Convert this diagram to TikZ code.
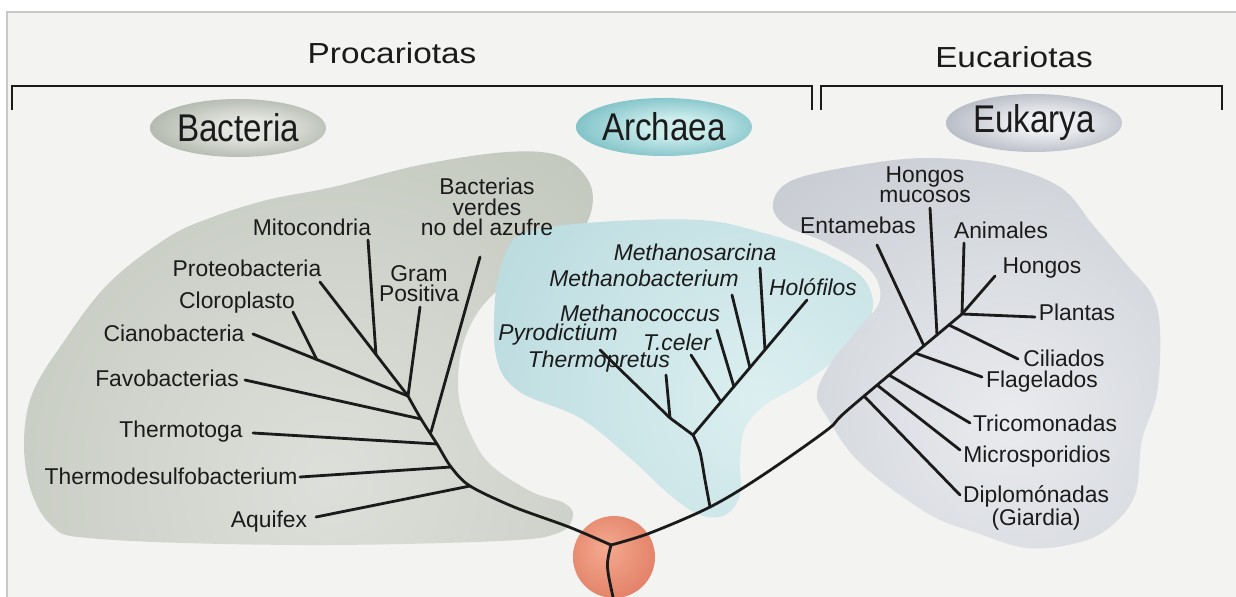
\documentclass[tikz,border=0pt]{standalone}
\usepackage{fontspec}
\setmainfont{Liberation Sans}
\newfontfamily\domainfont[FakeStretch=0.86]{Liberation Sans}
\newfontfamily\headfont[FakeStretch=1.15]{Liberation Sans}
\usetikzlibrary{shapes.geometric}

\definecolor{paper}{HTML}{F3F3F1}
\definecolor{framegray}{HTML}{C8C8C8}
\definecolor{ink}{HTML}{1B1B1B}
\definecolor{bactlight}{HTML}{DDE0DA}
\definecolor{bactdark}{HTML}{929B8A}
\definecolor{archlight}{HTML}{DCEFF0}
\definecolor{archdark}{HTML}{72B0BB}
\definecolor{euklight}{HTML}{E9EBEE}
\definecolor{eukdark}{HTML}{868E9C}
\definecolor{bactovalin}{HTML}{E4E6E1}
\definecolor{bactovalout}{HTML}{7A8573}
\definecolor{archovalin}{HTML}{CDEDED}
\definecolor{archovalout}{HTML}{26909D}
\definecolor{eukovalin}{HTML}{EEEFF2}
\definecolor{eukovalout}{HTML}{788091}
\definecolor{rootlight}{HTML}{F4AA90}
\definecolor{rootdark}{HTML}{D6654C}

\pgfdeclareradialshading{bactglow}{\pgfpoint{0bp}{0bp}}{color(0bp)=(bactlight); color(50bp)=(bactdark)}
\pgfdeclareradialshading{archglow}{\pgfpoint{0bp}{0bp}}{color(0bp)=(archlight); color(50bp)=(archdark)}
\pgfdeclareradialshading{eukglow}{\pgfpoint{0bp}{0bp}}{color(0bp)=(euklight); color(50bp)=(eukdark)}
\pgfdeclareradialshading{bactoval}{\pgfpoint{4bp}{0bp}}{color(0bp)=(bactovalin); color(8bp)=(bactovalin); color(50bp)=(bactovalout)}
\pgfdeclareradialshading{archoval}{\pgfpoint{4bp}{0bp}}{color(0bp)=(archovalin); color(8bp)=(archovalin); color(50bp)=(archovalout)}
\pgfdeclareradialshading{eukoval}{\pgfpoint{4bp}{0bp}}{color(0bp)=(eukovalin); color(8bp)=(eukovalin); color(50bp)=(eukovalout)}
\pgfdeclareradialshading{rootball}{\pgfpoint{-6bp}{6bp}}{color(0bp)=(rootlight); color(50bp)=(rootdark)}

\tikzset{
  branch/.style={draw=ink, line width=1.6pt, line cap=round, line join=round},
  bracket/.style={draw=ink, line width=1.2pt},
  heading/.style={font=\headfont\fontsize{16.5}{18}\selectfont, text=ink, inner sep=0pt},
  domainoval/.style={
    ellipse,
    shade,
    minimum width=3.52cm,
    minimum height=1.16cm,
    inner sep=0pt,
    text=ink,
    font=\domainfont\fontsize{22}{24}\selectfont
  },
  taxon/.style={font=\fontsize{13}{11.5}\selectfont, text=ink, align=center, inner sep=0pt},
  archtaxon/.style={taxon, font=\fontsize{13}{11.5}\selectfont\itshape}
}

\begin{document}
\begin{tikzpicture}[x=0.02cm, y=-0.02cm]
  \useasboundingbox (0,0) rectangle (1236,597);
  \fill[white] (0,0) rectangle (1236,597);
  \fill[paper] (7,12) rectangle (1236,597);
  \draw[framegray, line width=0.6pt] (7,597) -- (7,12) -- (1236,12);

  % Headings and brackets
  \node[heading] (procariotas) at (392,53) {Procariotas};
  \node[heading] (eucariotas) at (1014,57) {Eucariotas};
  \draw[bracket] (12,110) -- (12,86) -- (812,86) -- (812,110);
  \draw[bracket] (821,110) -- (821,86) -- (1222,86) -- (1222,110);

  % Domain ovals
  \node[domainoval, shading=bactoval] (bacteria) at (238,128) {Bacteria};
  \node[domainoval, shading=archoval] (archaea) at (664,127) {Archaea};
  \node[domainoval, shading=eukoval] (eukarya) at (1034,123) {Eukarya};

  % Shaded regions behind each tree
  \begin{scope}
    \clip plot[smooth cycle, tension=0.6] coordinates {
      (26,470) (30,400) (67,337) (110,282) (167,238) (210,218)
      (267,200) (333,187) (420,165) (507,152) (560,156) (588,180) (592,208)
      (578,236) (548,258) (508,282) (478,312) (461,352) (459,398) (472,437)
      (492,466) (532,492) (564,503) (573,516) (558,533) (500,541) (300,545)
      (100,539) (50,524)};
    \shade[shading=bactglow] (330,480) circle (600);
  \end{scope}
  \begin{scope}
    \clip plot[smooth cycle, tension=0.6] coordinates {
      (527,232) (600,222) (700,220) (760,232) (815,250) (860,275) (873,305)
      (860,335) (835,360) (800,385) (765,405) (745,428) (740,460) (740,495)
      (725,515) (700,515) (670,495) (630,458) (580,418) (520,392) (497,360)
      (495,300) (505,255)};
    \shade[shading=archglow] (760,400) circle (480);
  \end{scope}
  \begin{scope}
    \clip plot[smooth cycle, tension=0.6] coordinates {
      (773,203) (793,180) (860,165) (927,158) (1000,165) (1060,187) (1093,225)
      (1127,265) (1152,295) (1160,330) (1157,393) (1142,440) (1135,495)
      (1110,527) (1077,543) (1027,548) (977,533) (927,513) (860,463) (827,417)
      (817,393) (833,360) (860,327) (880,300) (870,270) (827,243) (785,225)};
    \shade[shading=eukglow] (1010,420) circle (500);
  \end{scope}

  % Root of the tree
  \coordinate (rootc) at (614,557);
  \shade[shading=rootball] (rootc) circle (41);
  \coordinate (root) at (611,545);
  \coordinate (rootEnd) at (613,597);
  \draw[branch] (root) .. controls (606,565) .. (rootEnd);

  % Bacteria trunk points
  \coordinate (bGram) at (408,396);
  \coordinate (bFavo) at (421,419);
  \coordinate (bVerdes) at (431,432);
  \coordinate (bThermo) at (437,444);
  \coordinate (bDesulfo) at (451,467);
  \coordinate (bAquifex) at (470,486);
  \coordinate (bLowA) at (514,507);
  \coordinate (bLowB) at (569,527);
  \coordinate (bCloro) at (317,360);
  \coordinate (bMito) at (376,355);
  \draw[branch] plot[smooth, tension=0.5] coordinates {(bGram) (bFavo) (bThermo) (bDesulfo) (bAquifex) (bLowA) (bLowB) (root)};

  % Bacteria labels and branches
  \node[taxon] (verdes) at (487,207) {Bacterias\\verdes\\no del azufre};
  \node[taxon] (mitocondria) at (312,227) {Mitocondria};
  \node[taxon] (gram) at (419,284) {Gram\\Positiva};
  \node[taxon] (proteo) at (247,268) {Proteobacteria};
  \node[taxon] (cloro) at (237,303) {Cloroplasto};
  \node[taxon] (ciano) at (174,333) {Cianobacteria};
  \node[taxon] (favo) at (167,378) {Favobacterias};
  \node[taxon] (thermotoga) at (181,432) {Thermotoga};
  \node[taxon] (desulfo) at (171,476) {Thermodesulfobacterium};
  \node[taxon] (aquifex) at (269,522) {Aquifex};

  \coordinate (tVerdes) at (480,257);
  \coordinate (tMito) at (368,240);
  \coordinate (tGram) at (420,307);
  \coordinate (tProteo) at (320,282);
  \coordinate (tCloro) at (293,312);
  \coordinate (tCiano) at (253,334);
  \coordinate (tFavo) at (245,380);
  \coordinate (tThermo) at (253,433);
  \coordinate (tDesulfo) at (300,477);
  \coordinate (tAquifex) at (316,517);

  \draw[branch] (tVerdes) -- (bVerdes);
  \draw[branch] (tMito) -- (bMito);
  \draw[branch] (tGram) -- (bGram);
  \draw[branch] (tProteo) -- (bGram);
  \draw[branch] (tCloro) -- (bCloro);
  \draw[branch] (tCiano) -- (bGram);
  \draw[branch] (tFavo) -- (bFavo);
  \draw[branch] (tThermo) -- (bThermo);
  \draw[branch] (tDesulfo) -- (bDesulfo);
  \draw[branch] (tAquifex) -- (bAquifex);

  % Main trunk towards Archaea and Eukarya
  \coordinate (aStem) at (710,507);
  \coordinate (eStem) at (850,408);
  \coordinate (eDiplo) at (864,396);
  \coordinate (eMicro) at (877,385);
  \coordinate (eTrico) at (889,375);
  \coordinate (eFlag) at (915,353);
  \coordinate (eEnta) at (924,346);
  \coordinate (eMuco) at (937,335);
  \coordinate (eCili) at (949,325);
  \coordinate (eTop) at (962,314);
  \draw[branch] plot[smooth, tension=0.55] coordinates {(root) (650,533) (aStem) (760,477) (827,430) (eStem) (eTop)};

  % Archaea labels and branches
  \coordinate (aFork) at (693,435);
  \coordinate (aThermo) at (670,418);
  \coordinate (aSarc) at (765,350);
  \coordinate (aBact) at (750,368);
  \coordinate (aCocc) at (734,387);
  \coordinate (aCeler) at (721,402);
  \draw[branch] plot[smooth, tension=0.5] coordinates {(aStem) (705,480) (700,452) (aFork)};

  \node[archtaxon] (sarcina) at (695,252) {Methanosarcina};
  \node[archtaxon] (mbact) at (644,278) {Methanobacterium};
  \node[archtaxon] (holofilos) at (813,287) {Holófilos};
  \node[archtaxon] (coccus) at (640,313) {Methanococcus};
  \node[archtaxon] (pyro) at (558,335) {Pyrodictium};
  \node[archtaxon] (celer) at (677,342) {T.celer};
  \node[archtaxon] (thermop) at (599,362) {Thermopretus};

  \coordinate (tHolo) at (807,300);
  \coordinate (tSarc) at (760,268);
  \coordinate (tMbact) at (732,295);
  \coordinate (tCocc) at (717,330);
  \coordinate (tCeler) at (691,355);
  \coordinate (tThermop) at (666,375);
  \coordinate (tPyro) at (600,350);

  \draw[branch] (tHolo) -- (aFork);
  \draw[branch] (tSarc) -- (aSarc);
  \draw[branch] (tMbact) -- (aBact);
  \draw[branch] (tCocc) -- (aCocc);
  \draw[branch] (tCeler) -- (aCeler);
  \draw[branch] (tThermop) -- (aThermo);
  \draw[branch] (tPyro) -- (aThermo) -- (aFork);

  % Eukarya labels and branches
  \node[taxon] (mucosos) at (925,185) {Hongos\\mucosos};
  \node[taxon] (entamebas) at (858,225) {Entamebas};
  \node[taxon] (animales) at (1001,230) {Animales};
  \node[taxon] (hongos) at (1042,268) {Hongos};
  \node[taxon] (plantas) at (1077,312) {Plantas};
  \node[taxon] (ciliados) at (1064,358) {Ciliados};
  \node[taxon] (flagelados) at (1042,382) {Flagelados};
  \node[taxon] (tricomonadas) at (1045,423) {Tricomonadas};
  \node[taxon] (microsp) at (1037,457) {Microsporidios};
  \node[taxon] (diplo) at (1036,508) {Diplomónadas\\(Giardia)};

  \coordinate (tEnta) at (877,245);
  \coordinate (tMuco) at (930,208);
  \coordinate (tAnim) at (964,243);
  \coordinate (tHongos) at (995,276);
  \coordinate (tPlantas) at (1035,317);
  \coordinate (tCili) at (1018,359);
  \coordinate (tFlag) at (982,377);
  \coordinate (tTrico) at (970,423);
  \coordinate (tMicro) at (960,450);
  \coordinate (tDiplo) at (960,495);

  \draw[branch] (tEnta) -- (eEnta);
  \draw[branch] (tMuco) -- (eMuco);
  \draw[branch] (tAnim) -- (eTop);
  \draw[branch] (tHongos) -- (eTop);
  \draw[branch] (tPlantas) -- (eTop);
  \draw[branch] (tCili) -- (eCili);
  \draw[branch] (tFlag) -- (eFlag);
  \draw[branch] (tTrico) -- (eTrico);
  \draw[branch] (tMicro) -- (eMicro);
  \draw[branch] (tDiplo) -- (eDiplo);
\end{tikzpicture}
\end{document}
